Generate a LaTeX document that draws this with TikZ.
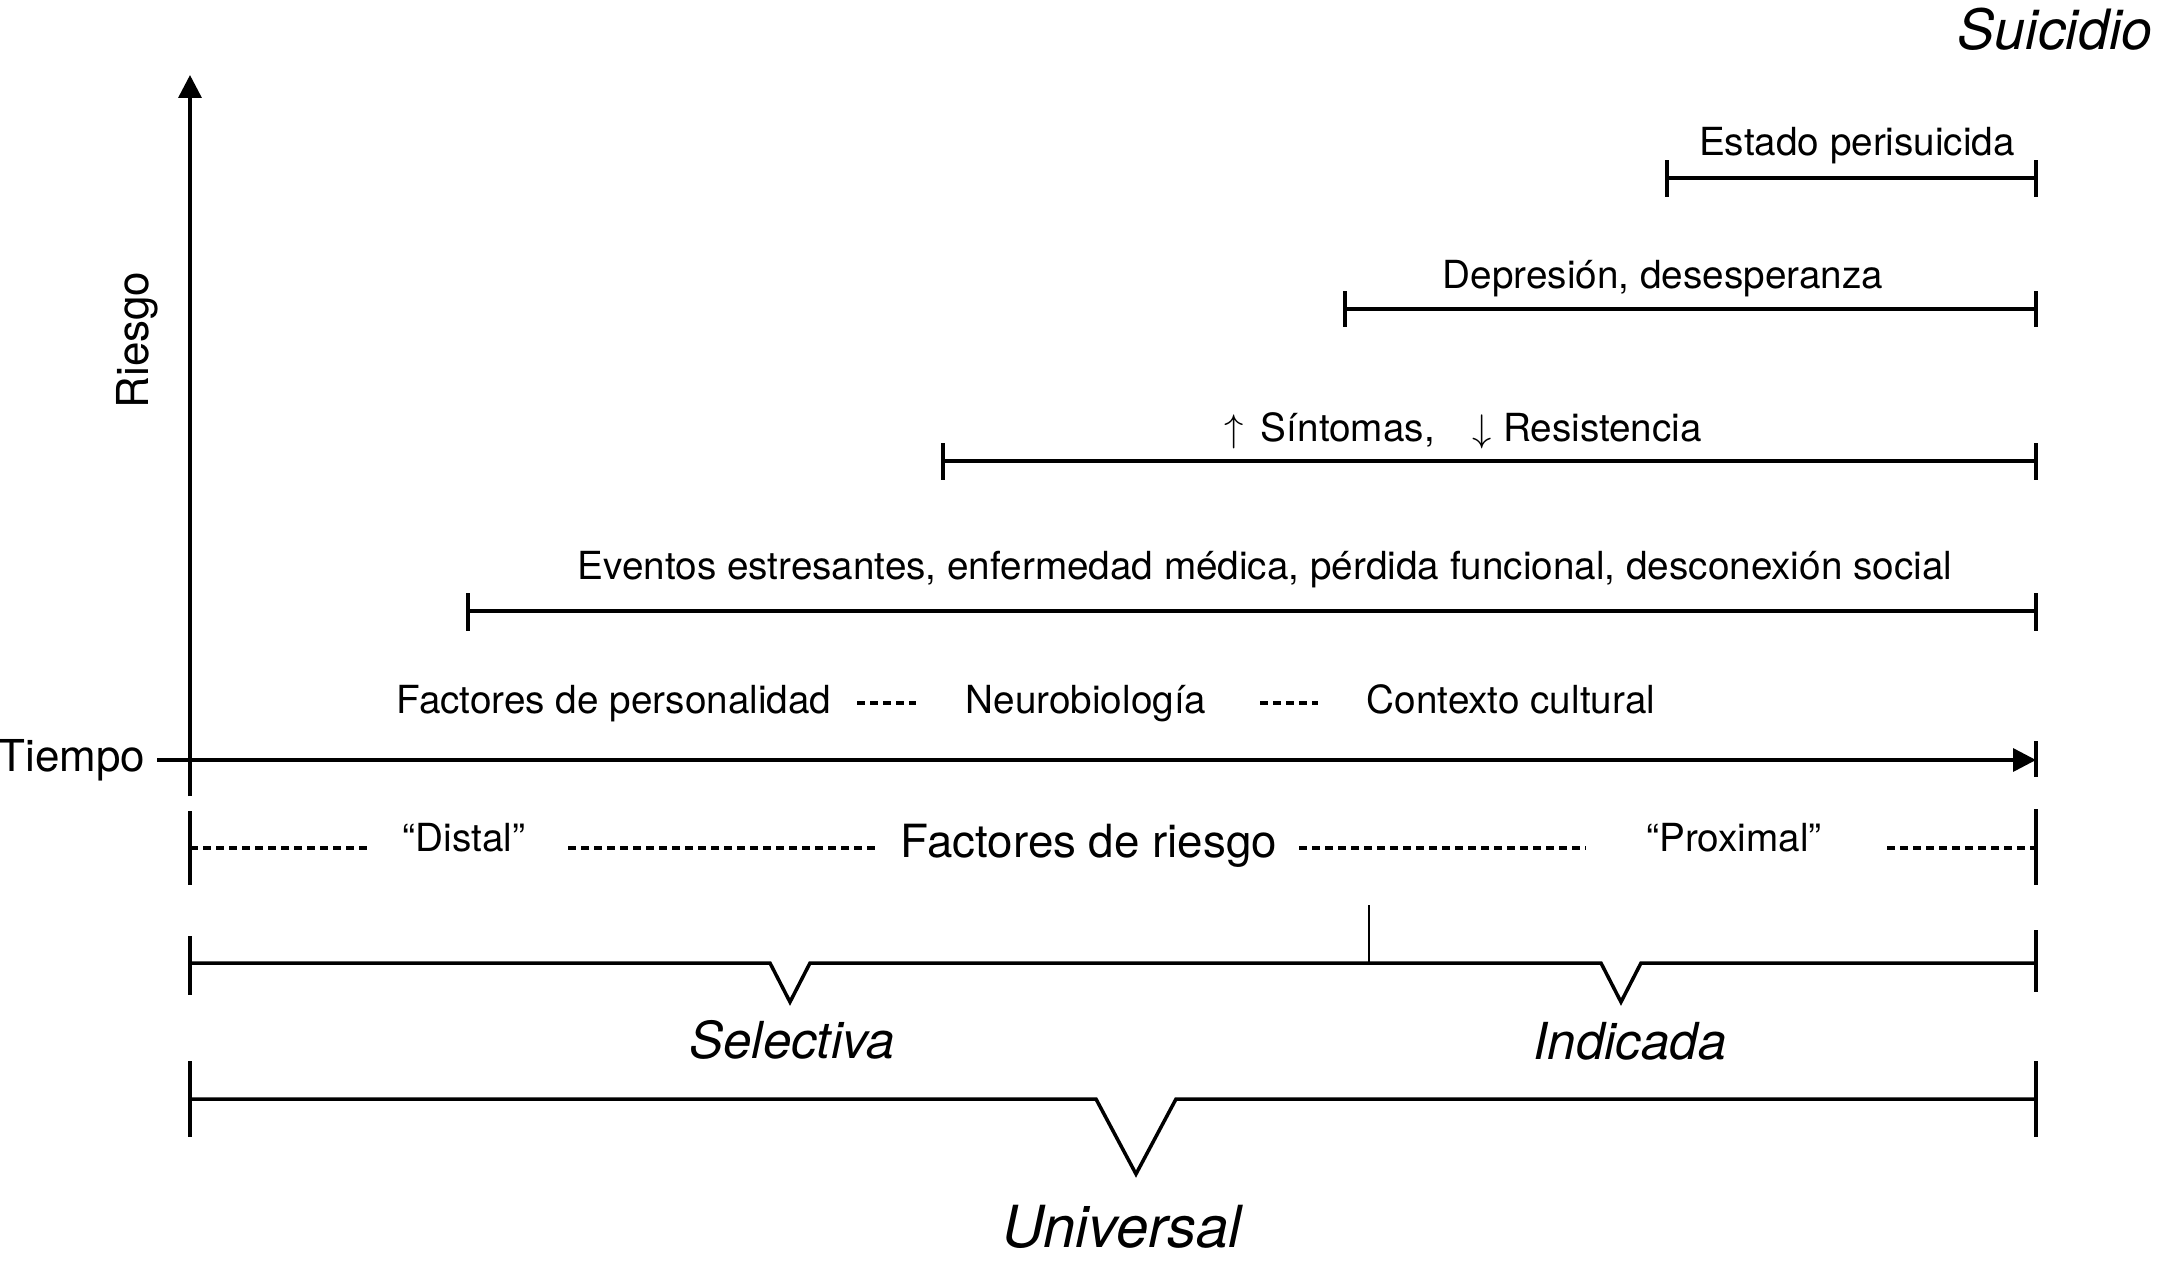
\documentclass[tikz,border=0pt]{standalone}
\usepackage{fontspec}
\setmainfont{TeX Gyre Heros}
\usetikzlibrary{arrows.meta}

\tikzset{
  barra/.style={black, line width=1pt, line join=miter},
  punteado/.style={black, line width=0.9pt, dash pattern=on 2.2pt off 1.5pt},
  rotulo/.style={anchor=base, inner sep=0pt, font=\fontsize{11}{13}\selectfont},
  grande/.style={anchor=base, inner sep=0pt, font=\fontsize{13}{15}\selectfont},
  nivel/.style={anchor=base, inner sep=0pt, font=\itshape\fontsize{14.5}{17}\selectfont},
  punta/.style={-{Triangle[length=6.5pt,width=6.5pt]}}
}

\begin{document}
\begin{tikzpicture}[x=0.01cm, y=-0.01cm]
    \useasboundingbox (0,0) rectangle (2159,1278);
    % ejes
    \draw[barra, punta] (190,796) -- (190,75);
    \draw[barra, punta] (157,760) -- (2036,760);
    \draw[barra] (2036,741) -- (2036,777);
    \node[grande, anchor=base east, font=\fontsize{12.5}{15}\selectfont] (tiempo) at (146,771) {Tiempo};
    \node[grande, rotate=90, font=\fontsize{12.5}{15}\selectfont] (riesgo) at (148,340) {Riesgo};
    \node[nivel, anchor=base east, font=\itshape\fontsize{15.8}{19}\selectfont] (suicidio) at (2153,49) {Suicidio};
    % rangos
    \draw[barra] (1667,178) -- (2036,178);
    \draw[barra] (1667,160) -- (1667,197);
    \draw[barra] (2036,160) -- (2036,197);
    \node[rotulo] (estado) at (1857,155) {Estado perisuicida};
    \draw[barra] (1345,309) -- (2036,309);
    \draw[barra] (1345,291) -- (1345,327);
    \draw[barra] (2036,291) -- (2036,327);
    \node[rotulo] (depresion) at (1663,288) {Depresión, desesperanza};
    \draw[barra] (943,461) -- (2036,461);
    \draw[barra] (943,443) -- (943,480);
    \draw[barra] (2036,443) -- (2036,480);
    \node[rotulo, anchor=base west] (sintomas) at (1224,441) {$\uparrow$\hspace{0.17cm}Síntomas,\hspace{0.38cm}$\downarrow$\hspace{0.11cm}Resistencia};
    \draw[barra] (468,611) -- (2036,611);
    \draw[barra] (468,593) -- (468,631);
    \draw[barra] (2036,593) -- (2036,631);
    \node[rotulo] (eventos) at (1265,579) {Eventos estresantes, enfermedad médica, pérdida funcional, desconexión social};
    % factores de base
    \node[rotulo] (personalidad) at (614,713) {Factores de personalidad};
    \draw[punteado] (857,703) -- (916,703);
    \node[rotulo] (neuro) at (1086,713) {Neurobiología};
    \draw[punteado] (1260,703) -- (1318,703);
    \node[rotulo] (contexto) at (1511,713) {Contexto cultural};
    % factores de riesgo
    \draw[barra] (190,811) -- (190,885);
    \draw[barra] (2036,809) -- (2036,885);
    \draw[punteado] (190,848) -- (368,848);
    \node[rotulo] (distal) at (464,851) {“Distal”};
    \draw[punteado] (568,848) -- (876,848);
    \node[grande] (factores) at (1089,857) {Factores de riesgo};
    \draw[punteado] (1299,848) -- (1586,848);
    \node[rotulo] (proximal) at (1734,851) {“Proximal”};
    \draw[punteado] (1887,848) -- (2036,848);
    % prevencion
    \draw[barra] (190,963) -- (770,963) -- (790,1002) -- (810,963) -- (1601,963) -- (1621,1002) -- (1641,963) -- (2036,963);
    \draw[barra] (190,936) -- (190,995);
    \draw[barra] (2036,930) -- (2036,992);
    \draw[black, line width=0.7pt] (1369,905) -- (1369,963);
    \node[nivel] (selectiva) at (792,1058) {Selectiva};
    \node[nivel] (indicada) at (1630,1059) {Indicada};
    \draw[barra] (190,1099) -- (1096,1099) -- (1136,1174) -- (1176,1099) -- (2036,1099);
    \draw[barra] (190,1061) -- (190,1137);
    \draw[barra] (2036,1061) -- (2036,1137);
    \node[nivel, font=\itshape\fontsize{16.5}{19}\selectfont] (universal) at (1122,1247) {Universal};
\end{tikzpicture}
\end{document}
